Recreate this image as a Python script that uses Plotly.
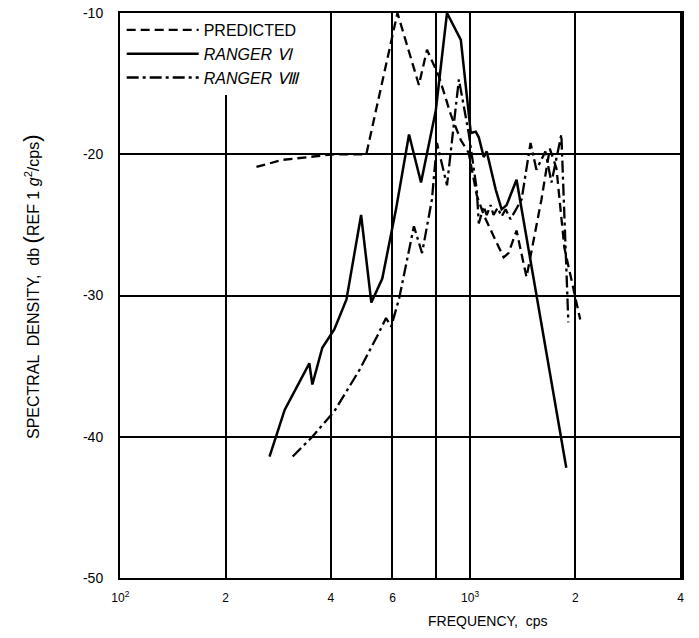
import plotly.graph_objects as go

# Predicted (dashed)
pred_f = [245, 290, 409, 505, 620, 714, 753, 815, 881, 941, 991, 1045, 1094, 1160, 1247, 1288, 1358, 1450, 1600, 1690, 1766, 1860, 1980, 2065]
pred_db = [-20.9, -20.4, -20.0, -20.0, -10.0, -15.1, -12.6, -14.5, -17.2, -19.0, -19.9, -22.9, -24.3, -25.7, -27.3, -27.0, -25.4, -28.7, -23.2, -19.6, -21.0, -26.6, -29.8, -31.7]

# Ranger VI (solid)
r6_f = [267, 295, 347, 354, 378, 409, 443, 488, 522, 561, 614, 669, 724, 798, 859, 916, 941, 1005, 1038, 1059, 1094, 1116, 1184, 1231, 1272, 1358, 1884]
r6_db = [-41.4, -38.1, -34.8, -36.3, -33.7, -32.4, -30.3, -24.3, -30.5, -28.8, -23.9, -18.6, -22.0, -16.9, -10.0, -11.4, -11.9, -18.5, -18.4, -18.8, -20.2, -19.8, -22.5, -23.9, -23.6, -21.8, -42.2]

# Ranger VIII (dash-dot)
r8_f = [311, 354, 409, 482, 542, 575, 595, 627, 691, 729, 778, 804, 859, 929, 991, 1045, 1059, 1094, 1116, 1145, 1167, 1199, 1231, 1264, 1305, 1404, 1489, 1548, 1642, 1709, 1824, 1910]
r8_db = [-41.4, -40.0, -38.2, -35.3, -32.9, -31.6, -32.2, -30.2, -25.1, -27.0, -23.2, -19.2, -22.2, -14.7, -18.5, -22.5, -24.9, -23.7, -24.3, -23.6, -24.3, -23.8, -24.4, -23.9, -24.6, -23.2, -19.2, -21.1, -19.8, -22.0, -18.6, -31.9]

x_tickvals = [100, 200, 400, 600, 1000, 2000, 4000]
x_ticktext = ["10<sup>2</sup>", "2", "4", "6", "10<sup>3</sup>", "2", "4"]
x_minor_grid = [800]
y_tickvals = [-50, -40, -30, -20, -10]
y_ticktext = ["-50", "-40", "-30", "-20", "-10"]

FONT = "Liberation Sans"

fig = go.Figure()
fig.add_trace(go.Scatter(x=pred_f, y=pred_db, mode="lines", name="PREDICTED",
                         line=dict(color="black", width=2.3, dash="9px,5px")))
fig.add_trace(go.Scatter(x=r6_f, y=r6_db, mode="lines", name="<i>RANGER Ⅵ</i>",
                         line=dict(color="black", width=2.5)))
fig.add_trace(go.Scatter(x=r8_f, y=r8_db, mode="lines", name="<i>RANGER Ⅷ</i>",
                         line=dict(color="black", width=2.3, dash="12px,4px,3px,4px")))

fig.update_layout(
    width=699, height=638,
    margin=dict(l=120, r=17, t=13, b=60),
    paper_bgcolor="white", plot_bgcolor="white",
    font=dict(family=FONT, color="black", size=13),
    showlegend=True,
    legend=dict(x=0.003, y=1.0, xanchor="left", yanchor="top",
                bgcolor="white", borderwidth=0, itemwidth=72,
                font=dict(family=FONT, size=16, color="black"),
                tracegroupgap=0),
    xaxis=dict(type="log", range=[1.999, 3.606],
               tickvals=x_tickvals, ticktext=x_ticktext,
               minor=dict(tickvals=x_minor_grid, showgrid=True, gridcolor="black",
                          gridwidth=1.5, ticks=""),
               showgrid=True, gridcolor="black", gridwidth=1.5,
               showline=True, linecolor="black", linewidth=2, mirror=True,
               ticks="", tickfont=dict(size=12, family=FONT),
               ticklabelstandoff=8,
               automargin=False, zeroline=False),
    yaxis=dict(range=[-50, -10], tickvals=y_tickvals, ticktext=y_ticktext,
               showgrid=True, gridcolor="black", gridwidth=1.5,
               showline=True, linecolor="black", linewidth=2, mirror=True,
               ticks="", tickfont=dict(size=14, family=FONT),
               ticklabelstandoff=12, automargin=False,
               zeroline=False),
    annotations=[
        dict(text="FREQUENCY,  cps", xref="paper", yref="paper",
             x=0.655, y=0, yshift=-33, xanchor="center", yanchor="top",
             showarrow=False, font=dict(size=14, family=FONT)),
        dict(text="SPECTRAL  DENSITY,  db <span style='font-size:22px'>(</span>REF 1 <i>g</i><sup>2</sup>/cps<span style='font-size:22px'>)</span>",
             xref="paper", yref="paper", x=0, y=0.515, xshift=-89,
             xanchor="center", yanchor="middle", textangle=-90,
             showarrow=False, font=dict(size=16, family=FONT)),
    ],
)

fig.write_html("out.html")
